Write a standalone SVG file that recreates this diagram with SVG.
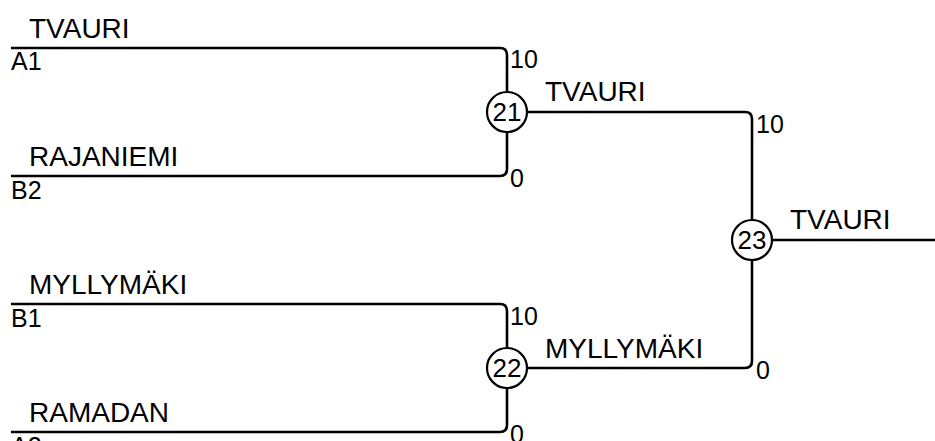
<svg xmlns="http://www.w3.org/2000/svg" width="935" height="441" viewBox="0 0 935 441">
<style>
.ln{fill:none;stroke:#000;stroke-width:2.6;}
.nd{fill:#fff;stroke:#000;stroke-width:2.2;}
text{font-family:"Liberation Sans",Arial,sans-serif;font-size:25px;fill:#000;}
.nm{font-size:28px;}
.c{text-anchor:middle;font-size:26px;}
</style>
<rect width="935" height="441" fill="#fff"/>
<g id="connectors">
<path class="ln" d="M11,48 H500 Q507,48 507,55 V169 Q507,176 500,176 H11"/>
<path class="ln" d="M11,304 H500 Q507,304 507,311 V425 Q507,432 500,432 H11"/>
<path class="ln" d="M507,112 H745 Q752,112 752,119 V361 Q752,368 745,368 H507"/>
<path class="ln" d="M752,240 H935"/>
</g>
<g id="player-a1"><text class="nm" x="29" y="38">TVAURI</text><text x="11" y="70">A1</text></g>
<g id="player-b2"><text class="nm" x="29" y="166">RAJANIEMI</text><text x="11" y="199">B2</text></g>
<g id="player-b1"><text class="nm" x="29" y="294">MYLLYMÄKI</text><text x="11" y="327">B1</text></g>
<g id="player-a2"><text class="nm" x="29" y="422">RAMADAN</text><text x="11" y="455">A2</text></g>
<g id="match-21">
<circle class="nd" cx="507" cy="112" r="20"/>
<text class="c" x="507" y="121">21</text>
<text x="510" y="68">10</text><text x="510" y="187">0</text>
<text class="nm" x="545" y="101">TVAURI</text>
</g>
<g id="match-22">
<circle class="nd" cx="507" cy="368" r="20"/>
<text class="c" x="507" y="377">22</text>
<text x="510" y="325">10</text><text x="510" y="443">0</text>
<text class="nm" x="545" y="358">MYLLYMÄKI</text>
</g>
<g id="match-23">
<circle class="nd" cx="752" cy="240" r="20"/>
<text class="c" x="752" y="249">23</text>
<text x="756" y="133">10</text><text x="756" y="379">0</text>
<text class="nm" x="790" y="229">TVAURI</text>
</g>
</svg>
